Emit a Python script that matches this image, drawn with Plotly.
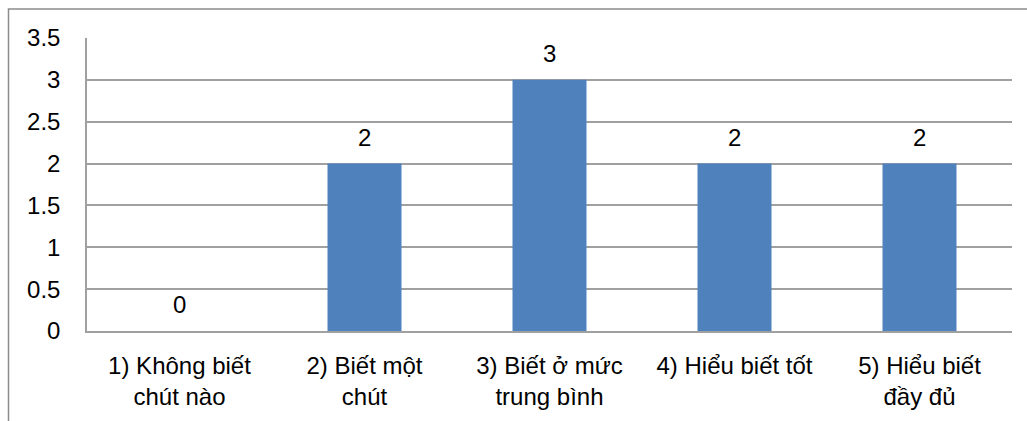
import plotly.graph_objects as go

categories = ["1) Không biết<br>chút nào", "2) Biết một<br>chút", "3) Biết ở mức<br>trung bình",
              "4) Hiểu biết tốt", "5) Hiểu biết<br>đầy đủ"]
values = [0, 2, 3, 2, 2]
y_ticks = [0, 0.5, 1, 1.5, 2, 2.5, 3, 3.5]
y_tick_labels = ["0", "0.5", "1", "1.5", "2", "2.5", "3", "3.5"]

FONT = "Liberation Sans, Arial, sans-serif"
GRID = "#a0a0a0"
FS = 24

fig = go.Figure()
fig.add_trace(go.Bar(x=categories, y=values, marker=dict(color="#4F81BD", line=dict(width=0)),
                     showlegend=False, hoverinfo="x+y"))

for c, v in zip(categories, values):
    fig.add_annotation(x=c, y=v, text=str(v), showarrow=False, yanchor="bottom",
                       yshift=11, font=dict(family=FONT, size=FS, color="#000000"))

W, H = 1027, 421
L, R, T, B = 87, 15, 38, 90
pw, ph = W - L - R, H - T - B
fig.add_shape(type="rect", xref="paper", yref="paper",
              x0=(8.5 - L) / pw, x1=(W + 5 - L) / pw,
              y0=-(B + 5) / ph, y1=(H - B - 9) / ph,
              line=dict(color="#8c8c8c", width=1.5), fillcolor="rgba(0,0,0,0)")

fig.update_layout(
    width=W, height=H,
    margin=dict(l=L, r=R, t=T, b=B, autoexpand=False),
    paper_bgcolor="white", plot_bgcolor="white",
    bargap=0.6,
    font=dict(family=FONT, size=FS, color="#000000"),
    xaxis=dict(showgrid=False, showline=True, linecolor=GRID, linewidth=1.5, automargin=False,
               ticks="", tickfont=dict(size=FS), ticklabelstandoff=12, fixedrange=True),
    yaxis=dict(range=[0, 3.5], tickvals=y_ticks, ticktext=y_tick_labels, automargin=False,
               showgrid=True, gridcolor=GRID, gridwidth=1.5, zeroline=False,
               showline=True, linecolor=GRID, linewidth=1.5,
               ticks="", tickfont=dict(size=FS), ticklabelstandoff=20, fixedrange=True),
)

fig.write_html("out.html", config={"displayModeBar": False},
               post_script="document.body.style.margin='0';document.body.style.overflow='hidden';")
